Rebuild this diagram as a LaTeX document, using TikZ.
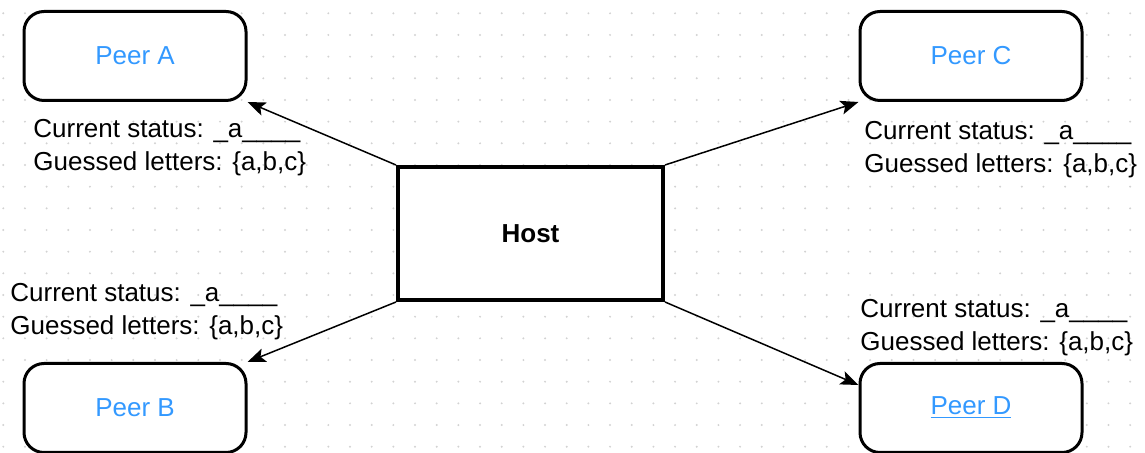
\documentclass[tikz,border=0pt]{standalone}
\usepackage{fontspec}
\setmainfont{Liberation Sans}
\usetikzlibrary{arrows.meta,calc}
\definecolor{peerblue}{RGB}{51,153,255}
\definecolor{griddot}{RGB}{210,210,210}
\tikzset{
  peerbox/.style={draw, line width=1.5pt, rounded corners=10pt, fill=white,
    minimum width=111pt, minimum height=44.5pt, inner sep=0pt,
    text=peerblue, font=\fontsize{13}{16}\selectfont},
  hostbox/.style={draw, line width=2pt, fill=white,
    minimum width=132.5pt, minimum height=66.5pt, inner sep=0pt,
    font=\fontsize{13}{16}\selectfont\bfseries},
  statuslabel/.style={anchor=west, inner sep=0pt, align=left,
    font=\fontsize{13}{16.5}\selectfont},
  link/.style={line width=0.75pt, -{Stealth[length=9pt,width=7pt,inset=2pt]}}
}
\begin{document}
\begin{tikzpicture}[x=0.5pt,y=-0.5pt]
  \useasboundingbox (0,0) rectangle (1145,453);
  % dotted background grid
  \foreach \i in {0,...,52} {
    \foreach \j in {0,...,20} {
      \fill[griddot] ({3.3+21.67*\i},{13.3+21.67*\j}) circle (0.55pt);
    }
  }
  % host and peers
  \node[hostbox] (host) at (530.5,233.5) {Host};
  \node[peerbox] (pa) at (135,56) {Peer A};
  \node[peerbox] (pc) at (971,56) {Peer C};
  \node[peerbox] (pb) at (135,408) {Peer B};
  \node[peerbox] (pd) at (971,408) {\underline{Peer D}};
  % game state shown to each peer
  \node[statuslabel] (la) at (33,148) {Current status: \_a\_\_\_\_\\Guessed letters: \{a,b,c\}};
  \node[statuslabel] (lc) at (864,150) {Current status: \_a\_\_\_\_\\Guessed letters: \{a,b,c\}};
  \node[statuslabel] (lb) at (10,312) {Current status: \_a\_\_\_\_\\Guessed letters: \{a,b,c\}};
  \node[statuslabel] (ld) at (860,328) {Current status: \_a\_\_\_\_\\Guessed letters: \{a,b,c\}};
  % broadcasts from the host
  \draw[link] (host.north west) -- (pa.south east);
  \draw[link] (host.north east) -- (pc.south west);
  \draw[link] (host.south west) -- (pb.north east);
  \draw[link] (host.south east) -- ($(pd.north west)!0.25!(pd.south west)$);
\end{tikzpicture}
\end{document}
